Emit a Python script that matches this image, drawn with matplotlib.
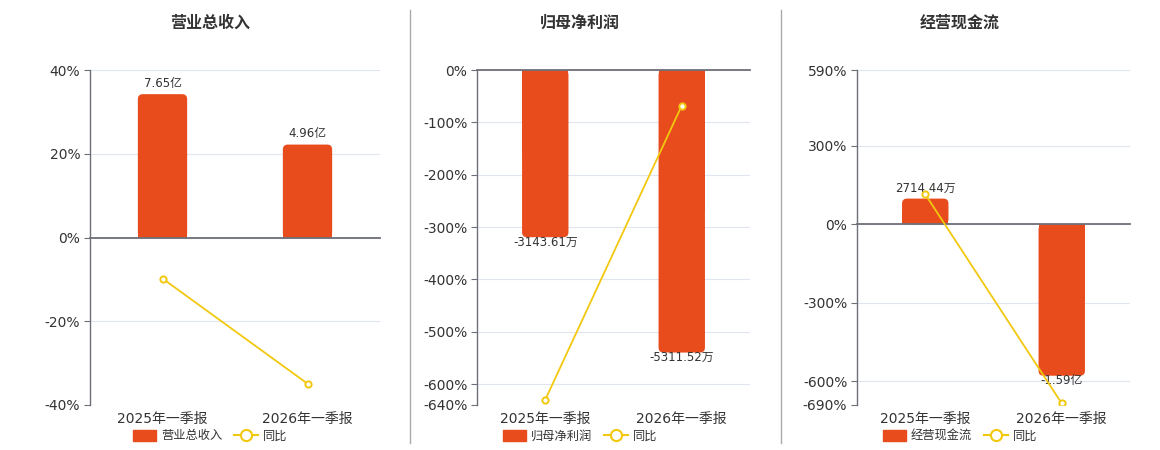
import matplotlib
matplotlib.use('Agg')
import matplotlib.pyplot as plt
from matplotlib.patches import Patch, FancyBboxPatch, Rectangle
from matplotlib.lines import Line2D
import numpy as np

plt.rcParams['font.family'] = ['DejaVu Sans', 'Noto Sans CJK SC']

# data
periods = ['2025年一季报', '2026年一季报']
titles = ['营业总收入', '归母净利润', '经营现金流']

revenue = [7.65, 4.96]          # 亿
revenue_labels = ['7.65亿', '4.96亿']
revenue_yoy = [-9.8, -34.9]     # %

profit = [-3143.61, -5311.52]   # 万
profit_labels = ['-3143.61万', '-5311.52万']
profit_yoy = [-630.0, -68.0]

cashflow = [2714.44, -15900.0]  # 万
cashflow_labels = ['2714.44万', '-1.59亿']
cashflow_yoy = [115.0, -684.0]

pct_ticks = [[40, 20, 0, -20, -40],
             [0, -100, -200, -300, -400, -500, -600, -640],
             [590, 300, 0, -300, -600, -690]]
pct_lims = [(-40, 40), (-640, 0), (-690, 590)]
# bar-axis units per percent so that both zeros line up
bar_scale = [0.2235, 9.84, 27.5]

BAR = '#e84c1d'
LINE = '#f2c80f'
AXC = '#6e7079'
GRID = '#e0e6f1'
TXT = '#333333'

W, H = 1160, 450
fig = plt.figure(figsize=(W / 100, H / 100), dpi=100)

# axes boxes in pixels: left, right
boxes = [(90, 380), (477, 750), (857, 1130)]
top_px, bot_px = 70, 405
centers = [210, 580, 960]
RADIUS = 5  # px, bar corner rounding

series = [(revenue, revenue_labels, revenue_yoy),
          (profit, profit_labels, profit_yoy),
          (cashflow, cashflow_labels, cashflow_yoy)]

x = np.arange(len(periods))


def round_bars(axb, bars, xupp, yupp):
    # swap plain rectangles for ones with rounded outer corners
    for b in bars:
        bx, bw = b.get_x(), b.get_width()
        v = b.get_y() + b.get_height()  # bar end, base is 0
        y0, h = min(0, v), abs(v)
        b.set_visible(False)
        rs = RADIUS * xupp
        axb.add_patch(FancyBboxPatch((bx, y0), bw, h,
                                     boxstyle=f'round,pad=0,rounding_size={rs}',
                                     mutation_aspect=yupp / xupp,
                                     facecolor=BAR, edgecolor='none',
                                     linewidth=0))
        # keep the corners at the zero line square
        half = h / 2
        base = 0 if v > 0 else -half
        axb.add_patch(Rectangle((bx, base), bw, half, facecolor=BAR,
                                edgecolor='none', linewidth=0))


for i, (vals, labels, yoy) in enumerate(series):
    l, r = boxes[i]
    rect = [l / W, 1 - bot_px / H, (r - l) / W, (bot_px - top_px) / H]
    ax = fig.add_axes(rect)
    ax.set_xlim(-0.5, 1.5)
    ax.set_ylim(*pct_lims[i])
    ax.set_yticks(pct_ticks[i])
    ax.set_yticklabels([f'{t}%' for t in pct_ticks[i]])
    ax.tick_params(axis='y', length=4, width=0.8, color=AXC, labelsize=10,
                   labelcolor=TXT, pad=3)
    ax.set_xticks(x)
    ax.set_xticklabels(periods)
    ax.tick_params(axis='x', which='major', length=0, labelsize=10,
                   labelcolor=TXT, pad=5)
    ax.set_xticks([-0.5, 0.5, 1.5], minor=True)
    ax.tick_params(axis='x', which='minor', length=0)
    for s in ['top', 'right', 'bottom']:
        ax.spines[s].set_visible(False)
    ax.spines['left'].set_color(AXC)
    ax.spines['left'].set_linewidth(1)
    ax.grid(axis='y', color=GRID, linewidth=0.8)
    ax.set_axisbelow(True)

    # bars on their own scale
    axb = ax.twinx()
    lo, hi = pct_lims[i]
    axb.set_ylim(lo * bar_scale[i], hi * bar_scale[i])
    bars = axb.bar(x, vals, width=0.34, color=BAR)
    pos_labels = [t if v >= 0 else '' for t, v in zip(labels, vals)]
    neg_labels = [t if v < 0 else '' for t, v in zip(labels, vals)]
    axb.bar_label(bars, labels=pos_labels, padding=3, fontsize=8.5, color=TXT)
    axb.bar_label(bars, labels=neg_labels, padding=-1, fontsize=8.5, color=TXT)
    xupp = 2.0 / (r - l)
    yupp = (hi - lo) * bar_scale[i] / (bot_px - top_px)
    round_bars(axb, bars, xupp, yupp)
    axb.set_yticks([])
    for s in axb.spines.values():
        s.set_visible(False)

    # yoy line on top, zero axis with boundary ticks
    axl = ax.twinx()
    axl.set_ylim(*pct_lims[i])
    axl.set_yticks([])
    axl.plot(x, yoy, color=LINE, linewidth=1.3, marker='o', markersize=4.5,
             markerfacecolor='white', markeredgecolor=LINE, markeredgewidth=1.4,
             zorder=5)
    for s in ['top', 'right', 'left']:
        axl.spines[s].set_visible(False)
    axl.spines['bottom'].set_position(('data', 0))
    axl.spines['bottom'].set_color(AXC)
    axl.spines['bottom'].set_linewidth(1.3)
    axl.tick_params(axis='x', which='major', length=0, labelbottom=False)
    axl.tick_params(axis='x', which='minor', length=5, width=0.8, color=AXC,
                    direction='out')

    fig.text(centers[i] / W, 1 - 23 / H, titles[i], ha='center', va='center',
             fontsize=11.5, fontweight='bold', color=TXT)

    handles = [Patch(facecolor=BAR, edgecolor=BAR),
               Line2D([0], [0], color=LINE, linewidth=1.5, marker='o',
                      markersize=8, markerfacecolor='white',
                      markeredgecolor=LINE, markeredgewidth=1.5)]
    fig.legend(handles, [titles[i], '同比'], loc='center',
               bbox_to_anchor=(centers[i] / W, 1 - 436 / H), ncol=2,
               frameon=False, fontsize=8.8, labelcolor=TXT,
               handlelength=1.9, handleheight=1.0, handletextpad=0.4,
               columnspacing=1.0, borderpad=0)

# separators between panels
for xs in [410, 781]:
    fig.add_artist(Line2D([xs / W, xs / W], [1 - 443 / H, 1 - 10 / H],
                          color='#aaaaaa', linewidth=1))

fig.savefig('out.png', dpi=100)
